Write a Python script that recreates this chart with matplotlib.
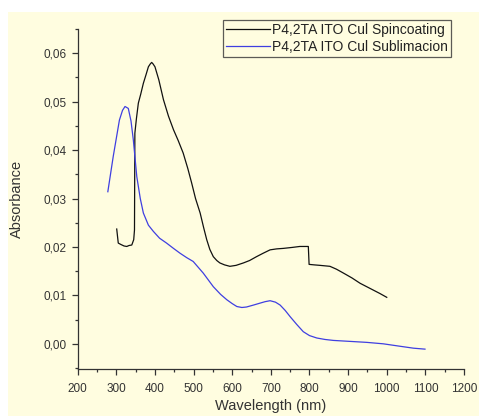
import matplotlib
matplotlib.use("Agg")
import matplotlib.pyplot as plt
from matplotlib.ticker import MultipleLocator, FuncFormatter
from matplotlib.lines import Line2D
from matplotlib.patches import Rectangle

spin_nm = [301, 305, 312, 320, 327, 333, 340, 345, 347, 348, 352, 357, 363, 370, 377, 383, 388, 391.5, 395, 400,
           410, 422, 435, 448, 460, 473, 485, 495, 505, 517, 526, 534, 542, 551, 560, 568, 580, 594, 610,
           629, 645, 663, 680, 698, 715, 732, 755, 775, 790, 797, 799, 812, 827, 840, 853, 870, 888, 910,
           931, 948, 965, 982, 1000]
spin_abs = [0.0237, 0.0208, 0.0205, 0.0202, 0.0201, 0.0203, 0.0204, 0.0215, 0.0235, 0.0435, 0.0465, 0.0497, 0.0515,
            0.0538, 0.0556, 0.0572, 0.0578, 0.0581, 0.0578, 0.0572,
            0.0545, 0.0504, 0.0470, 0.0442, 0.0420, 0.0394, 0.0362, 0.0332, 0.0300, 0.0270, 0.0240, 0.0215,
            0.0195, 0.0180, 0.0172, 0.0167, 0.0163, 0.0160, 0.0162,
            0.0167, 0.0172, 0.0180, 0.0187, 0.0194, 0.0196, 0.0197, 0.0199, 0.0201, 0.0201, 0.0201, 0.0164,
            0.0163, 0.0162, 0.0161, 0.0160, 0.0154, 0.0146, 0.0136, 0.0125, 0.0118, 0.0111, 0.0104, 0.0096]

subl_nm = [278, 292, 308, 316, 322.5, 331, 338, 344, 353, 362, 370, 383, 396, 412, 430, 448, 465, 482, 499, 525,
           551, 570, 586, 600, 612, 625, 637, 655, 672, 685, 698, 712, 724, 737, 750, 767, 784, 800, 819,
           840, 862, 905, 948, 991, 1034, 1069, 1099]
subl_abs = [0.0314, 0.0387, 0.0462, 0.0482, 0.0490, 0.0486, 0.0460, 0.0421, 0.0345, 0.0300, 0.0270, 0.0245, 0.0232,
            0.0218, 0.0208, 0.0197, 0.0187, 0.0178, 0.0170, 0.0146,
            0.0118, 0.0102, 0.0091, 0.0083, 0.0077, 0.0075, 0.0076, 0.0080, 0.0084, 0.0087, 0.0089, 0.0086,
            0.0080, 0.0069, 0.0056, 0.0040, 0.0025, 0.0017, 0.0012,
            0.0009, 0.0007, 0.0005, 0.0003, 0.0000, -0.0005, -0.0009, -0.0011]

labels = ["P4,2TA ITO Cul Spincoating", "P4,2TA ITO Cul Sublimacion"]

plt.rcParams['font.family'] = ['Liberation Sans', 'DejaVu Sans']

W, H = 479, 416
fig = plt.figure(figsize=(W / 100, H / 100), dpi=100, facecolor='white')
cream = '#fffde0'
fig.patches.append(Rectangle((8 / W, 0), 1 - 8 / W, 1 - 12 / H, transform=fig.transFigure,
                             facecolor=cream, edgecolor='none', zorder=-10))

ax = fig.add_axes([77.7 / W, 1 - 369 / H, (464 - 77.7) / W, (369 - 29) / H])
ax.patch.set_alpha(0)

ax.plot(spin_nm, spin_abs, color='#111111', lw=0.9)
ax.plot(subl_nm, subl_abs, color='#3f3fe0', lw=0.9)

ax.set_xlim(200, 1200)
ax.set_ylim(-0.0052, 0.065)
ax.xaxis.set_major_locator(MultipleLocator(100))
ax.xaxis.set_minor_locator(MultipleLocator(50))
ax.yaxis.set_major_locator(MultipleLocator(0.01))
ax.yaxis.set_minor_locator(MultipleLocator(0.005))
ax.yaxis.set_major_formatter(FuncFormatter(lambda v, p: f"{v:.2f}".replace('.', ',').replace('-0,00', '0,00')))
for s in ['top', 'right']:
    ax.spines[s].set_visible(False)
for s in ['left', 'bottom']:
    ax.spines[s].set_color('#333333')
    ax.spines[s].set_linewidth(0.9)
ax.tick_params(which='major', direction='out', length=4, width=0.9, color='#333333',
               labelsize=8.5, labelcolor='#333333', pad=4)
ax.tick_params(axis='x', which='major', pad=6)
ax.tick_params(which='minor', direction='out', length=2.5, width=0.9, color='#333333')
ax.set_xlabel("Wavelength (nm)", fontsize=10.5, color='#333333', labelpad=3)
ax.set_ylabel("Absorbance", fontsize=10.5, color='#333333', labelpad=14)

handles = [Line2D([], [], color='#111111', lw=0.9), Line2D([], [], color='#3f3fe0', lw=0.9)]
leg = ax.legend(handles, labels, loc='upper left', bbox_to_anchor=((223 - 77.7) / (464 - 77.7), 1 + (29 - 20) / 340),
                frameon=True, fancybox=False, fontsize=10, handlelength=3.2, handletextpad=0.15,
                borderpad=0.2, labelspacing=0.25, borderaxespad=0)
leg.get_frame().set_edgecolor('#333333')
leg.get_frame().set_facecolor(cream)
leg.get_frame().set_linewidth(0.9)
for t in leg.get_texts():
    t.set_color('#222222')

fig.savefig("out.png", dpi=100, facecolor='white')
